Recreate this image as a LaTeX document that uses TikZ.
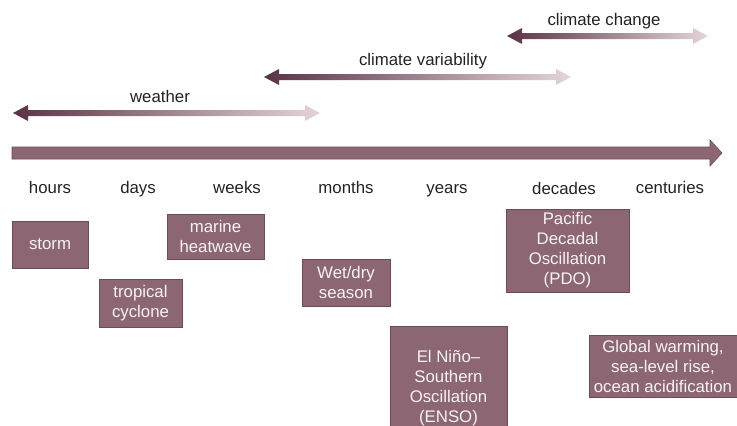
\documentclass[tikz,border=0pt]{standalone}
\usepackage{fontspec}
\setmainfont{Liberation Sans}

\definecolor{boxfill}{HTML}{8C6672}
\definecolor{boxline}{HTML}{6E4B59}
\definecolor{spandark}{HTML}{5A3246}
\definecolor{spanlight}{HTML}{E4D5DA}
\definecolor{labeltext}{HTML}{222222}

\begin{document}
\begin{tikzpicture}[x=1pt,y=-1pt,
  font=\fontsize{16.8}{20}\selectfont,
  scalebox/.style={rectangle, fill=boxfill, draw=boxline, line width=0.8pt,
    text=white!92!boxfill, align=center, inner sep=0pt},
  span/.style={left color=spandark, right color=spanlight},
  unit/.style={text=labeltext, anchor=base, inner sep=0pt}
]
\def\spanpath#1{-- ++(15,-8) -- ++(0,5) -- ++(#1,0) -- ++(0,-5) -- ++(15,8) -- ++(-15,8) -- ++(0,-5) -- ++(-#1,0) -- ++(0,5) -- cycle}
\useasboundingbox (0,0) rectangle (737,426);
\clip (0,0) rectangle (737,426);

% ranges
\shade[span] (13,113) \spanpath{277};
\node[unit] (weatherlbl) at (160,102) {weather};

\shade[span] (264,77) \spanpath{277};
\node[unit] (variablbl) at (423,65) {climate variability};

\shade[span] (507,36) \spanpath{171};
\node[unit] (changelbl) at (604,25) {climate change};

% time axis
\filldraw[fill=boxfill, draw=boxline, line width=0.6pt]
  (12,147) -- (710,147) -- (710,140) -- (722,153) -- (710,166) -- (710,159) -- (12,159) -- cycle;

\node[unit] (hours) at (50,193) {hours};
\node[unit] (days) at (138,193) {days};
\node[unit] (weeks) at (237,193) {weeks};
\node[unit] (months) at (346,193) {months};
\node[unit] (years) at (447,193) {years};
\node[unit] (decades) at (564,194) {decades};
\node[unit] (centuries) at (670,193) {centuries};

% phenomena
\node[scalebox, minimum width=76pt, minimum height=47pt] (storm) at (50,244.5) {storm};
\node[scalebox, minimum width=83pt, minimum height=48pt] (cyclone) at (140.5,303) {tropical\\cyclone};
\node[scalebox, minimum width=97pt, minimum height=45pt] (heatwave) at (215.5,236.5) {marine\\heatwave};
\node[scalebox, minimum width=88pt, minimum height=47pt] (season) at (346,282.5) {Wet/dry\\season};
\node[scalebox, minimum width=123pt, minimum height=83pt] (pdo) at (567.5,250.5) {Pacific\\Decadal\\Oscillation\\(PDO)};
\node[scalebox, minimum width=117pt, minimum height=124pt] (enso) at (448.5,388) {El Niño–\\Southern\\Oscillation\\(ENSO)};
\node[scalebox, minimum width=148pt, minimum height=62pt] (warming) at (663,366) {Global warming,\\sea-level rise,\\ocean acidification};

\end{tikzpicture}
\end{document}
